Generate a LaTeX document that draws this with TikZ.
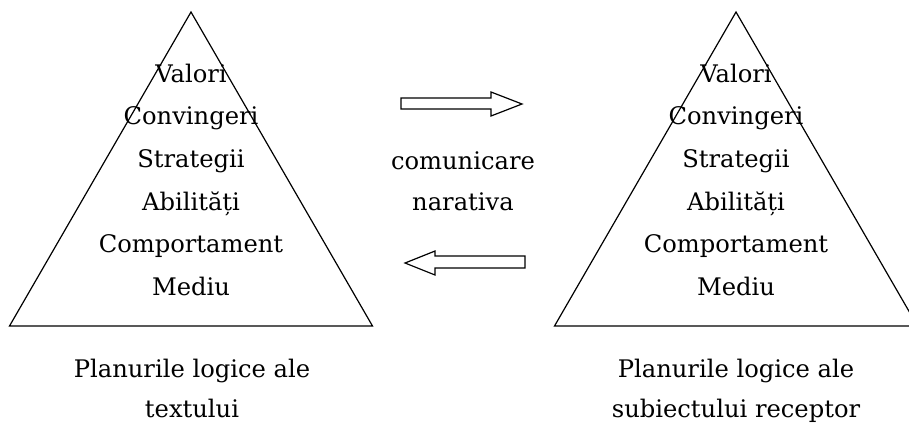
\documentclass[tikz,border=0pt]{standalone}
\usepackage{fontspec}
\setmainfont{DejaVu Serif}
\begin{document}
\begin{tikzpicture}[x=1pt,y=-1pt,
  lbl/.style={anchor=base,inner sep=0pt,font=\fontsize{24.2}{24.2}\selectfont},
  tri/.style={draw=black,line width=1.2pt,line join=miter},
  arr/.style={draw=black,line width=1.2pt,fill=white,line join=miter}]
\useasboundingbox (0,0) rectangle (909,426);
\begin{scope}
\clip (0,0) rectangle (909,426);
\coordinate (LA) at (191,12);
\coordinate (LL) at (9.5,326);
\coordinate (LR) at (372.5,326);
\coordinate (RA) at (736,12);
\coordinate (RL) at (554.5,326);
\coordinate (RR) at (917.5,326);
\draw[tri] (LL) -- (LA) -- (LR) -- cycle;
\draw[tri] (RL) -- (RA) -- (RR) -- cycle;
\end{scope}
% left pyramid labels
\node[lbl] (l1) at (191,82) {Valori};
\node[lbl] (l2) at (191,124) {Convingeri};
\node[lbl] (l3) at (191,167) {Strategii};
\node[lbl] (l4) at (191,210) {Abilități};
\node[lbl] (l5) at (191,252) {Comportament};
\node[lbl] (l6) at (191,295) {Mediu};
% right pyramid labels
\node[lbl] (r1) at (736,82) {Valori};
\node[lbl] (r2) at (736,124) {Convingeri};
\node[lbl] (r3) at (736,167) {Strategii};
\node[lbl] (r4) at (736,210) {Abilități};
\node[lbl] (r5) at (736,252) {Comportament};
\node[lbl] (r6) at (736,295) {Mediu};
% middle
\node[lbl] (m1) at (463,169) {comunicare};
\node[lbl] (m2) at (463,210) {narativa};
% arrows
\draw[arr] (401,98) -- (491,98) -- (491,92) -- (522,104) -- (491,116) -- (491,109) -- (401,109) -- cycle;
\draw[arr] (525,256) -- (435,256) -- (435,251) -- (405,263) -- (435,275) -- (435,268) -- (525,268) -- cycle;
% captions
\node[lbl] (c1) at (192,377) {Planurile logice ale};
\node[lbl] (c2) at (192,417) {textului};
\node[lbl] (c3) at (736,377) {Planurile logice ale};
\node[lbl] (c4) at (736,417) {subiectului receptor};
\end{tikzpicture}
\end{document}
